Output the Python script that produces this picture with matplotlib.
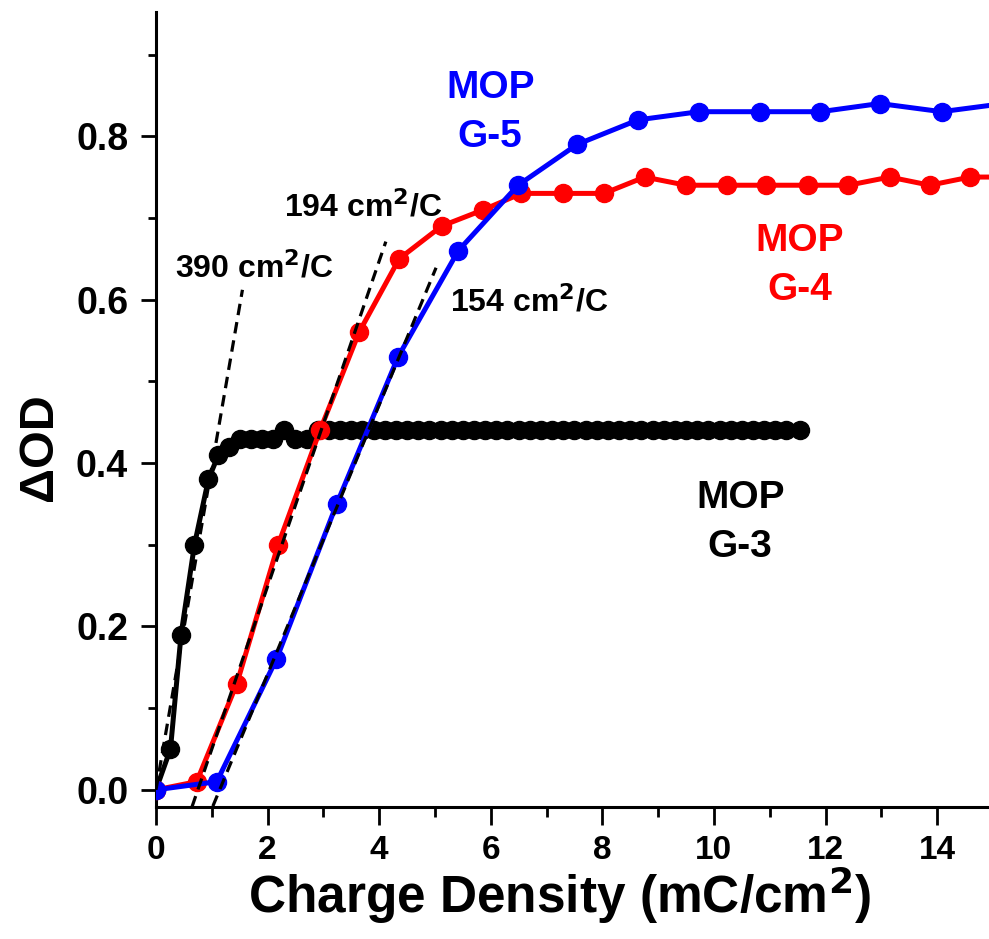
import numpy as np
import matplotlib
matplotlib.use("Agg")
import matplotlib.pyplot as plt
from matplotlib.ticker import MultipleLocator

plt.rcParams['font.family'] = ['Liberation Sans', 'DejaVu Sans']
plt.rcParams['font.weight'] = 'bold'
plt.rcParams['mathtext.default'] = 'bf'

# MOP G-3 (black)
g3_x = [0, 0.26, 0.45, 0.69, 0.94, 1.12, 1.3, 1.5, 1.7, 1.9, 2.1, 2.3, 2.5, 2.7, 2.9,
        3.1, 3.3, 3.5, 3.7, 3.9, 4.1, 4.3, 4.5, 4.7, 4.9, 5.1, 5.3, 5.5, 5.7, 5.9,
        6.1, 6.3, 6.5, 6.7, 6.9, 7.1, 7.3, 7.5, 7.7, 7.9, 8.1, 8.3, 8.5, 8.7, 8.9,
        9.1, 9.3, 9.5, 9.7, 9.9, 10.1, 10.3, 10.5, 10.7, 10.9, 11.1, 11.3, 11.55]
g3_y = [0, 0.05, 0.19, 0.30, 0.38, 0.41, 0.42, 0.43, 0.43, 0.43, 0.43, 0.44, 0.43, 0.43, 0.44,
        0.44, 0.44, 0.44, 0.44, 0.44, 0.44, 0.44, 0.44, 0.44, 0.44, 0.44, 0.44, 0.44, 0.44, 0.44,
        0.44, 0.44, 0.44, 0.44, 0.44, 0.44, 0.44, 0.44, 0.44, 0.44, 0.44, 0.44, 0.44, 0.44, 0.44,
        0.44, 0.44, 0.44, 0.44, 0.44, 0.44, 0.44, 0.44, 0.44, 0.44, 0.44, 0.44, 0.44]

# MOP G-4 (red)
g4_x = [0, 0.73, 1.45, 2.19, 2.94, 3.64, 4.36, 5.12, 5.87, 6.55, 7.30, 8.03, 8.76,
        9.50, 10.23, 10.94, 11.68, 12.41, 13.15, 13.87, 14.59, 15.3]
g4_y = [0, 0.01, 0.13, 0.30, 0.44, 0.56, 0.65, 0.69, 0.71, 0.73, 0.73, 0.73, 0.75,
        0.74, 0.74, 0.74, 0.74, 0.74, 0.75, 0.74, 0.75, 0.75]

# MOP G-5 (blue)
g5_x = [0, 1.09, 2.16, 3.24, 4.34, 5.42, 6.49, 7.55, 8.64, 9.73, 10.82, 11.91,
        12.97, 14.08, 15.2]
g5_y = [0, 0.01, 0.16, 0.35, 0.53, 0.66, 0.74, 0.79, 0.82, 0.83, 0.83, 0.83,
        0.84, 0.83, 0.84]

# linear fits (dashed): x range and y at the ends
fit_x = [[0.0, 1.55], [0.645, 4.12], [1.02, 5.02]]
fit_y = [[0.0, 0.612], [-0.021, 0.671], [-0.020, 0.639]]
fit_labels = ['390 cm$^{2}$/C', '194 cm$^{2}$/C', '154 cm$^{2}$/C']

fig = plt.figure(figsize=(9.89, 9.39), dpi=100)
ax = fig.add_axes([0.1577, 0.1406, 0.8423, 0.8466])

ax.plot(g3_x, g3_y, '-o', color='black', lw=3.6, ms=13, zorder=2)
ax.plot(g4_x, g4_y, '-o', color='#ff0000', lw=3.6, ms=13, zorder=3)
ax.plot(g5_x, g5_y, '-o', color='#0000ff', lw=3.6, ms=13, zorder=4)

for fx, fy in zip(fit_x, fit_y):
    ax.plot(fx, fy, '--', color='black', lw=2.3, dashes=(3.6, 2.2), zorder=5)

ax.text(0.34, 0.639, fit_labels[0], fontsize=23, fontweight='bold', va='center', ha='left')
ax.text(2.29, 0.713, fit_labels[1], fontsize=23, fontweight='bold', va='center', ha='left')
ax.text(5.27, 0.597, fit_labels[2], fontsize=23, fontweight='bold', va='center', ha='left')

ax.text(5.99, 0.829, 'MOP\nG-5', color='#0000ff', fontsize=28, fontweight='bold',
        ha='center', va='center', linespacing=1.45)
ax.text(11.54, 0.642, 'MOP\nG-4', color='#ff0000', fontsize=28, fontweight='bold',
        ha='center', va='center', linespacing=1.45)
ax.text(10.47, 0.327, 'MOP\nG-3', color='black', fontsize=28, fontweight='bold',
        ha='center', va='center', linespacing=1.45)

ax.set_xlim(0, 14.93)
ax.set_ylim(-0.021, 0.952)
ax.xaxis.set_major_locator(MultipleLocator(2))
ax.xaxis.set_minor_locator(MultipleLocator(1))
ax.yaxis.set_major_locator(MultipleLocator(0.2))
ax.yaxis.set_minor_locator(MultipleLocator(0.1))
ax.yaxis.set_major_formatter(matplotlib.ticker.FormatStrFormatter('%.1f'))

ax.spines['top'].set_visible(False)
ax.spines['right'].set_visible(False)
for s in ['left', 'bottom']:
    ax.spines[s].set_linewidth(2.2)

ax.tick_params(axis='x', which='major', direction='out', length=13, width=2, labelsize=24, pad=7)
ax.tick_params(axis='x', which='minor', direction='out', length=7, width=2)
ax.tick_params(axis='y', which='major', direction='out', length=11, width=2, labelsize=27, pad=9)
ax.tick_params(axis='y', which='minor', direction='out', length=6, width=2)
for lab in ax.get_xticklabels() + ax.get_yticklabels():
    lab.set_fontweight('bold')

ax.set_xlabel('Charge Density (mC/cm$^{2}$)', fontsize=37, fontweight='bold')
ax.xaxis.set_label_coords(0.484, -0.072)
ax.set_ylabel('\u0394OD', fontsize=35, fontweight='bold')
ax.yaxis.set_label_coords(-0.113, 0.453)

fig.savefig('out.png', dpi=100)
